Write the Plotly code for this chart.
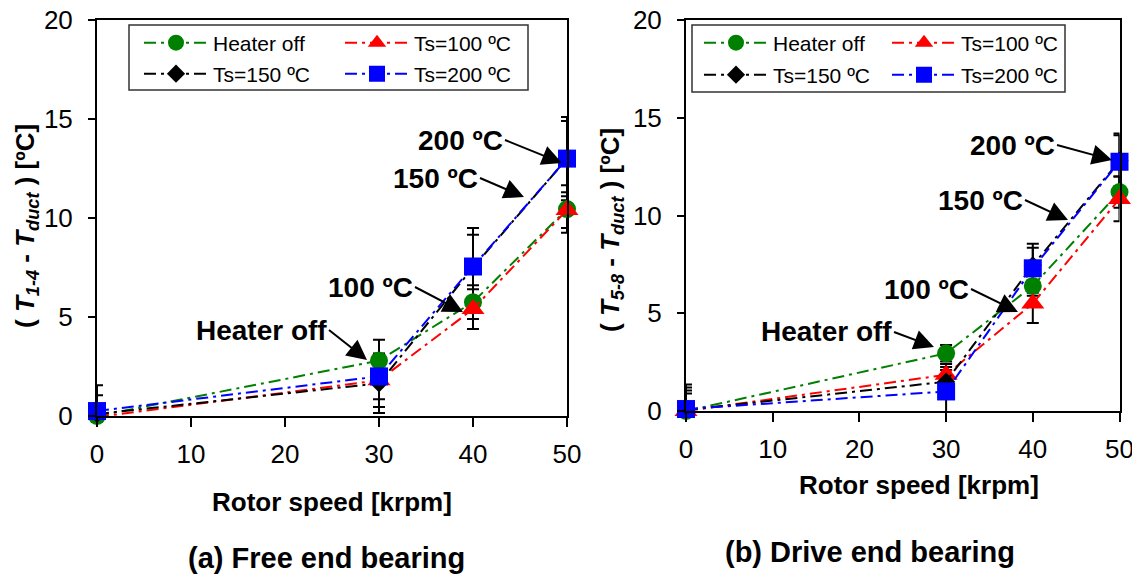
import plotly.graph_objects as go

W, H = 1140, 575
OFF = 8  # page body margin: figure pixel = page pixel - OFF
FONT = "Arial, Liberation Sans, sans-serif"

# ---------------- data ----------------
speeds = [0, 30, 40, 50]
series_names = ["Heater off", "Ts=100 ºC", "Ts=150 ºC", "Ts=200 ºC"]
colors = ["#008000", "#FF0000", "#000000", "#0000FF"]
symbols = ["circle", "triangle-up", "diamond", "square"]
marker_sizes = [18, 20, 14, 18]

# (a) Free end bearing: T1-4 - Tduct [ºC]
free_heater_off = [0.0, 2.8, 5.75, 10.45]
free_ts100 = [-0.05, 1.8, 5.4, 10.4]
free_ts150 = [0.1, 1.65, 7.5, 13.0]
free_ts200 = [0.25, 2.0, 7.55, 13.0]
free_err_heater_off = [0.3, 1.05, 0.85, 1.2]
free_err_ts100 = [0.3, 1.35, 1.0, 0.9]
free_err_ts150 = [0.95, 1.5, 1.65, 1.9]
free_err_ts200 = [1.3, 1.15, 1.95, 2.1]

# (b) Drive end bearing: T5-8 - Tduct [ºC]
drive_heater_off = [0.0, 2.95, 6.4, 11.2]
drive_ts100 = [0.0, 1.85, 5.5, 10.85]
drive_ts150 = [0.05, 1.5, 7.45, 12.8]
drive_ts200 = [0.1, 1.0, 7.3, 12.75]
drive_err_heater_off = [1.35, 0.42, 0.5, 0.8]
drive_err_ts100 = [1.2, 0.55, 1.0, 1.15]
drive_err_ts150 = [1.0, 0.75, 0.9, 1.3]
drive_err_ts200 = [0.8, 1.1, 1.25, 1.45]

x_ticks = [0, 10, 20, 30, 40, 50]
y_ticks = [0, 5, 10, 15, 20]

free_vals = [free_heater_off, free_ts100, free_ts150, free_ts200]
free_errs = [free_err_heater_off, free_err_ts100, free_err_ts150, free_err_ts200]
drive_vals = [drive_heater_off, drive_ts100, drive_ts150, drive_ts200]
drive_errs = [drive_err_heater_off, drive_err_ts100, drive_err_ts150, drive_err_ts200]

DASH = "12px,5px,3px,5px"


def px_x(p):
    return (p - OFF) / W


def px_y(p):
    return 1 - (p - OFF) / H


fig = go.Figure()

panels = [
    ("x", "y", free_vals, free_errs, ["legend", "legend", "legend2", "legend2"]),
    ("x2", "y2", drive_vals, drive_errs, ["legend3", "legend3", "legend4", "legend4"]),
]

for xa, ya, vals, errs, legs in panels:
    # error bars (clipped to plot area, drawn beneath markers)
    for i in range(4):
        fig.add_trace(go.Scatter(
            x=speeds, y=vals[i], xaxis=xa, yaxis=ya, mode="markers",
            marker=dict(size=2, opacity=0), showlegend=False, hoverinfo="skip",
            error_y=dict(type="data", array=errs[i], visible=True,
                         color="black", thickness=2, width=6),
            cliponaxis=True,
        ))
    for i in range(4):
        fig.add_trace(go.Scatter(
            x=speeds, y=vals[i], xaxis=xa, yaxis=ya, mode="lines+markers",
            name=series_names[i], legend=legs[i],
            line=dict(color=colors[i], width=2, dash=DASH),
            marker=dict(symbol=symbols[i], size=marker_sizes[i], color=colors[i],
                        line=dict(width=0)),
            cliponaxis=False,
        ))

axis_common = dict(
    showgrid=False, zeroline=False, showline=True, linewidth=2, linecolor="black",
    mirror=True, ticks="outside", tickwidth=2, tickcolor="black", automargin=False,
    ticklabeloverflow="allow",
    tickfont=dict(family=FONT, size=26, color="black"),
)

fig.update_layout(
    width=W, height=H,
    margin=dict(l=0, r=0, t=0, b=0, pad=0, autoexpand=False),
    paper_bgcolor="white", plot_bgcolor="white",
    showlegend=True,
    xaxis=dict(domain=[px_x(97), px_x(567)], range=[0, 50], tickvals=x_ticks,
               ticklen=9, ticklabelstandoff=5, anchor="y", **axis_common),
    yaxis=dict(domain=[px_y(416), px_y(20)], range=[0, 20], tickvals=y_ticks,
               ticklen=7, ticklabelstandoff=10, anchor="x", **axis_common),
    xaxis2=dict(domain=[px_x(686), px_x(1119.5)], range=[0, 50], tickvals=x_ticks,
                ticklen=9, ticklabelstandoff=5, anchor="y2", **axis_common),
    yaxis2=dict(domain=[px_y(411), px_y(20)], range=[0, 20], tickvals=y_ticks,
                ticklen=7, ticklabelstandoff=10, anchor="x2", **axis_common),
)


def leg(xpx, ypx, ew):
    return dict(x=px_x(xpx), y=px_y(ypx), xanchor="left", yanchor="middle",
                orientation="h", bgcolor="rgba(0,0,0,0)", borderwidth=0,
                font=dict(family=FONT, size=21, color="black"),
                itemwidth=64, entrywidth=ew, entrywidthmode="pixels",
                traceorder="normal")


fig.update_layout(
    legend=leg(139, 43, 122),
    legend2=leg(139, 74, 122),
    legend3=leg(699, 43, 109),
    legend4=leg(699, 75, 109),
)

# legend frames
for x0, x1, y0, y1 in [(129, 528, 25, 90), (692, 1065, 25, 92)]:
    fig.add_shape(type="rect", xref="paper", yref="paper",
                  x0=px_x(x0), x1=px_x(x1), y0=px_y(y1), y1=px_y(y0),
                  line=dict(color="#333333", width=1.5), fillcolor="rgba(0,0,0,0)")

# arrow annotations: (text, head px, tail px)
arrows = [
    ("200 ºC", (562, 163), (505, 140)),
    ("150 ºC", (524, 197), (480, 178)),
    ("100 ºC", (463, 312), (415, 287)),
    ("Heater off", (367, 360), (329, 330)),
    ("200 ºC", (1112, 160), (1057, 145)),
    ("150 ºC", (1068, 220), (1025, 200)),
    ("100 ºC", (1018, 312), (971, 289)),
    ("Heater off", (934, 347), (894, 332)),
]
for txt, (hx, hy), (tx, ty) in arrows:
    fig.add_annotation(
        xref="paper", yref="paper", x=px_x(hx), y=px_y(hy),
        ax=tx - hx, ay=ty - hy, axref="pixel", ayref="pixel",
        text="<b>" + txt + "</b>", showarrow=True,
        arrowhead=2, arrowsize=2, arrowwidth=2, arrowcolor="black",
        xanchor="right", yanchor="middle",
        font=dict(family=FONT, size=28, color="black"),
    )

# titles
texts = [
    ("<b>Rotor speed [krpm]</b>", 332, 502, 26, 0),
    ("<b>Rotor speed [krpm]</b>", 919, 485, 26, 0),
    ("<b>(a) Free end bearing</b>", 326, 558, 29, 0),
    ("<b>(b) Drive end bearing</b>", 870, 552, 29, 0),
    ("<b>( <i>T</i><sub><i>1-4</i></sub> - <i>T</i><sub><i>duct</i></sub> ) [ºC]</b>", 26, 226, 26, -90),
    ("<b>( <i>T</i><sub><i>5-8</i></sub> - <i>T</i><sub><i>duct</i></sub> ) [ºC]</b>", 612, 230, 26, -90),
]
for txt, cx, cy, fs, ang in texts:
    fig.add_annotation(
        xref="paper", yref="paper", x=px_x(cx), y=px_y(cy),
        text=txt, showarrow=False, textangle=ang,
        xanchor="center", yanchor="middle",
        font=dict(family=FONT, size=fs, color="black"),
    )

fig.write_html("out.html")
